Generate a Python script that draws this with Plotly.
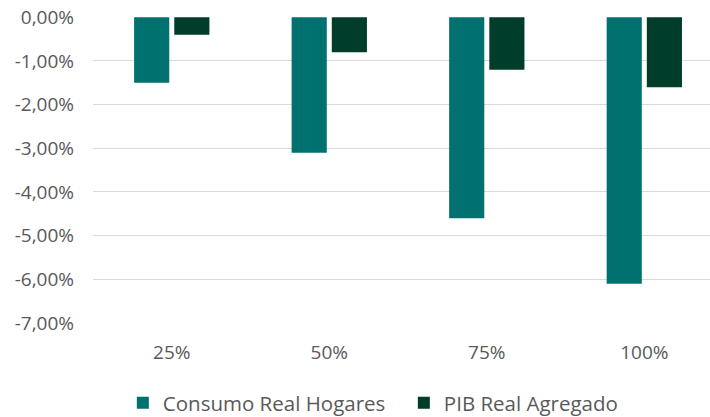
import plotly.graph_objects as go

categories = ["25%", "50%", "75%", "100%"]
consumo = [-1.5, -3.1, -4.6, -6.1]
pib = [-0.4, -0.8, -1.2, -1.6]
y_ticks = [0, -1, -2, -3, -4, -5, -6, -7]
y_tick_labels = ["0,00%", "-1,00%", "-2,00%", "-3,00%", "-4,00%", "-5,00%", "-6,00%", "-7,00%"]

font_family = "Open Sans"
text_color = "#595959"

fig = go.Figure()
fig.add_trace(go.Bar(x=categories, y=consumo, name="Consumo Real Hogares",
                     marker=dict(color="#00716F", line=dict(width=0))))
fig.add_trace(go.Bar(x=categories, y=pib, name="PIB Real Agregado",
                     marker=dict(color="#003D2B", line=dict(width=0))))

fig.update_layout(
    width=710, height=417,
    margin=dict(l=93, r=0, t=17, b=94, autoexpand=False),
    paper_bgcolor="white", plot_bgcolor="white",
    barmode="group", bargap=0.49, bargroupgap=0.125,
    font=dict(family=font_family, size=19, color=text_color),
    showlegend=True,
    legend=dict(orientation="h", x=0.173, xref="container", xanchor="left",
                y=0.0336, yref="container", yanchor="middle",
                font=dict(size=20.5, color=text_color), itemsizing="constant",
                traceorder="normal", itemwidth=30,
                entrywidth=236, entrywidthmode="pixels"),
)
fig.update_xaxes(type="category", range=[-0.5, 3.417], showgrid=False, showline=False,
                 ticks="", tickfont=dict(size=19, color=text_color), ticklabelstandoff=16)
fig.update_yaxes(range=[-7.0, 0.006], tickvals=y_ticks, ticktext=y_tick_labels,
                 showgrid=True, gridcolor="#D9D9D9", gridwidth=1.3, zeroline=False,
                 showline=False, ticks="", tickfont=dict(size=19, color=text_color),
                 ticklabelstandoff=18, ticklabeloverflow="allow")

fig.write_html("out.html", config={"displayModeBar": False},
               post_script="document.body.style.margin='0';document.body.style.padding='0';")
